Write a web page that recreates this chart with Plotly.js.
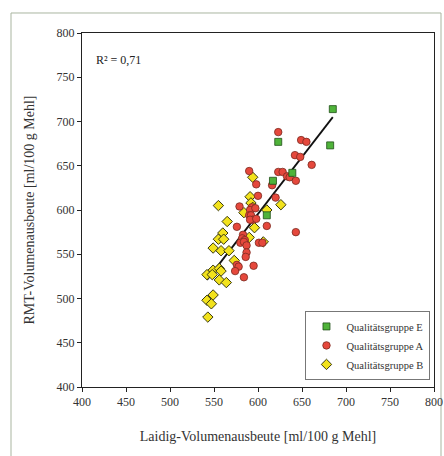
<!DOCTYPE html>
<html><head><meta charset="utf-8">
<script src="https://cdn.plot.ly/plotly-3.0.1.min.js"></script>
<style>html,body{margin:0;padding:0;background:#fff}#c{width:444px;height:456px}</style>
</head><body><div id="c"></div>
<script>
// Qualitätsgruppe E
const eX = [685, 623, 682, 639, 617, 610];
const eY = [714, 677, 673, 642, 633, 594];
// Qualitätsgruppe A
const aX = [623, 649, 655, 642, 648, 661, 590, 623, 628, 633, 636, 643, 616, 598, 600, 620, 579, 593, 591, 597, 590, 592, 594, 591, 598, 576, 610, 643, 583, 582, 585, 580, 584, 587, 601, 605, 587, 586, 576, 578, 574, 595, 584];
const aY = [688, 679, 677, 662, 660, 651, 644, 643, 643, 638, 637, 633, 628, 629, 616, 614, 604, 603, 600, 602, 594, 594, 589, 589, 590, 581, 582, 575, 572, 568, 566, 563, 564, 560, 563, 563, 552, 547, 538, 536, 531, 537, 524];
// Qualitätsgruppe B
const bX = [594, 591, 555, 592, 594, 610, 626, 584, 565, 596, 560, 555, 561, 590, 606, 549, 558, 567, 573, 549, 556, 558, 542, 548, 556, 564, 549, 542, 547, 543];
const bY = [637, 615, 605, 608, 603, 600, 606, 597, 587, 580, 574, 567, 567, 569, 564, 557, 554, 554, 543, 532, 534, 531, 527, 527, 521, 518, 504, 498, 494, 479];
// Regression line endpoints
const lineX = [542, 685];
const lineY = [521, 705];
const names = ['Qualitätsgruppe E', 'Qualitätsgruppe A', 'Qualitätsgruppe B'];
const r2Text = 'R² = 0,71';
const xTitle = 'Laidig-Volumenausbeute [ml/100 g Mehl]';
const yTitle = 'RMT-Volumenausbeute [ml/100 g Mehl]';

const serif = 'Liberation Serif, Times New Roman, serif';
const traces = [
  {x: lineX, y: lineY, mode: 'lines', line: {color: '#111', width: 1.8}, showlegend: false, hoverinfo: 'skip'},
  {x: bX, y: bY, mode: 'markers', name: names[2], marker: {symbol: 'diamond', size: 8, color: '#f2e21c', line: {color: '#3a3a10', width: 1}}},
  {x: aX, y: aY, mode: 'markers', name: names[1], marker: {symbol: 'circle', size: 7.5, color: '#e5483c', line: {color: '#7a2a20', width: 0.8}}},
  {x: eX, y: eY, mode: 'markers', name: names[0], marker: {symbol: 'square', size: 7, color: '#4fb33a', line: {color: '#1f4f18', width: 0.8}}}
];
const layout = {
  width: 444, height: 456,
  margin: {l: 82, r: 10, t: 33, b: 69},
  paper_bgcolor: '#fff', plot_bgcolor: '#fff',
  font: {family: serif, color: '#333', size: 12},
  showlegend: true,
  legend: {x: 0.99, y: 0.02, xanchor: 'right', yanchor: 'bottom', bgcolor: '#fff', bordercolor: '#777', borderwidth: 1,
    font: {family: serif, size: 10.5, color: '#333'}, traceorder: 'reversed', itemwidth: 20, tracegroupgap: 0},
  xaxis: {range: [400, 800], dtick: 50, tick0: 400, showgrid: false, zeroline: false, showline: true, linecolor: '#222', linewidth: 1,
    mirror: true, ticks: 'outside', ticklen: 4, tickcolor: '#222', tickfont: {family: serif, size: 12, color: '#333'},
    title: {text: xTitle, font: {family: serif, size: 14, color: '#333'}, standoff: 22}},
  yaxis: {range: [400, 800], dtick: 50, tick0: 400, showgrid: false, zeroline: false, showline: true, linecolor: '#222', linewidth: 1,
    mirror: true, ticks: 'outside', ticklen: 4, tickcolor: '#222', tickfont: {family: serif, size: 12, color: '#333'},
    title: {text: yTitle, font: {family: serif, size: 14, color: '#333'}, standoff: 18}},
  annotations: [{xref: 'paper', yref: 'paper', x: 0.035, y: 0.925, xanchor: 'left', yanchor: 'middle', showarrow: false,
    text: r2Text, font: {family: serif, size: 12, color: '#222'}}],
  shapes: [{type: 'rect', xref: 'paper', yref: 'paper', x0: -0.2017, x1: 1.0199, y0: -0.25, y1: 1.0565,
    line: {color: '#a9b5a0', width: 1}, fillcolor: 'rgba(0,0,0,0)', layer: 'below'}]
};
Plotly.newPlot('c', traces, layout, {displayModeBar: false, staticPlot: true});
</script></body></html>
